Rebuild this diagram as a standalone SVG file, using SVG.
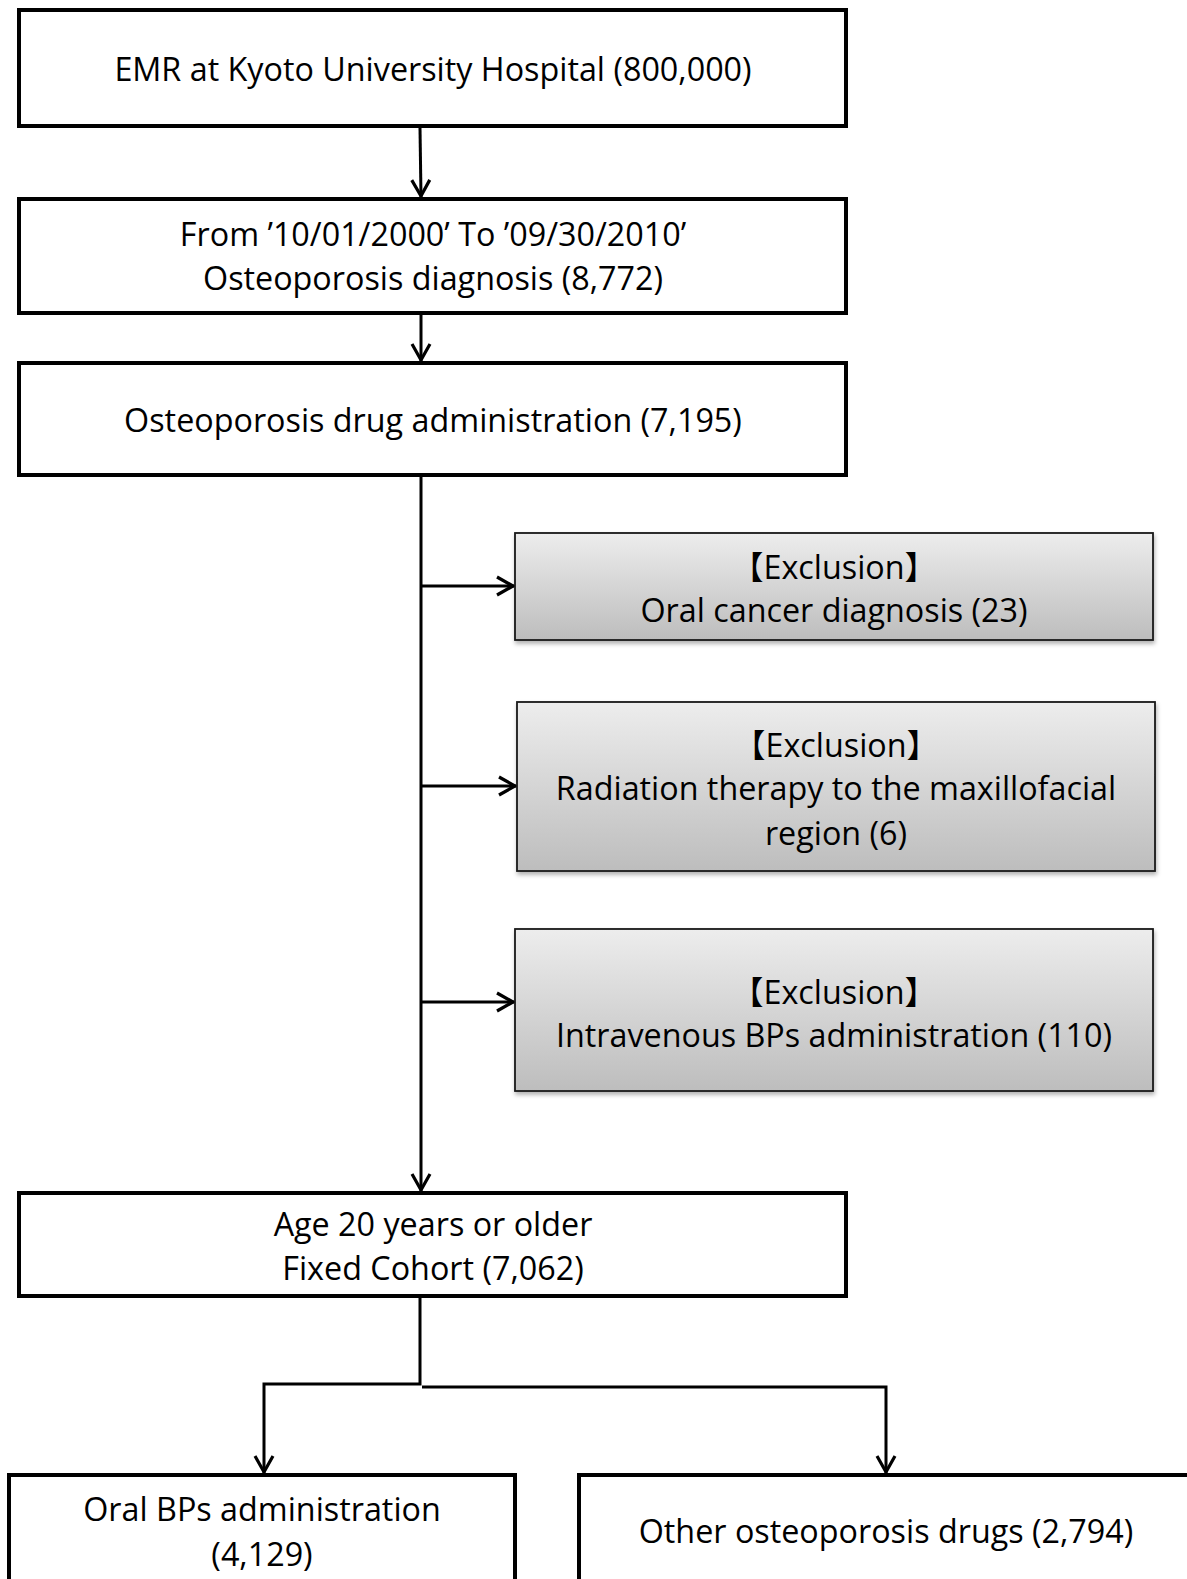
<svg xmlns="http://www.w3.org/2000/svg" width="1187" height="1579" viewBox="0 0 1187 1579">
<defs>
<style>
.main{fill:#fff;stroke:#000;stroke-width:4}
.excl{fill:url(#g);stroke:#1a1a1a;stroke-width:1.8;filter:url(#sh)}
.t{font-family:"Open Sans","Noto Sans CJK JP",sans-serif;font-size:32.3px;fill:#000;text-anchor:middle}
.c{fill:none;stroke:#000;stroke-width:3}
</style>
<linearGradient id="g" x1="0" y1="0" x2="0" y2="1">
<stop offset="0" stop-color="#ededed"/>
<stop offset="1" stop-color="#bdbdbd"/>
</linearGradient>
<filter id="sh" x="-5%" y="-10%" width="115%" height="130%">
<feDropShadow dx="1" dy="3" stdDeviation="2" flood-color="#000" flood-opacity="0.3"/>
</filter>
<marker id="a" markerUnits="userSpaceOnUse" markerWidth="30" markerHeight="30" viewBox="-22 -15 30 30" refX="0" refY="0" orient="auto">
<path d="M-17,-9 L-1,0 L-17,9" fill="none" stroke="#000" stroke-width="3.2"/>
</marker>
</defs>
<rect width="1187" height="1579" fill="#fff"/>
<g id="connectors">
<line class="c" x1="420" y1="128" x2="421" y2="197" marker-end="url(#a)"/>
<line class="c" x1="421" y1="315" x2="421" y2="361" marker-end="url(#a)"/>
<line class="c" x1="421" y1="477" x2="421" y2="1191" marker-end="url(#a)"/>
<line class="c" x1="421" y1="586" x2="514" y2="586" marker-end="url(#a)"/>
<line class="c" x1="421" y1="786" x2="516" y2="786" marker-end="url(#a)"/>
<line class="c" x1="421" y1="1002" x2="514" y2="1002" marker-end="url(#a)"/>
<polyline class="c" points="420,1298 420,1384 264,1384 264,1473" marker-end="url(#a)"/>
<polyline class="c" points="422,1387 886,1387 886,1473" marker-end="url(#a)"/>
</g>
<g id="n1">
<rect class="main" x="19" y="10" width="827" height="116"/>
<text class="t" x="433" y="81">EMR at Kyoto University Hospital (800,000)</text>
</g>
<g id="n2">
<rect class="main" x="19" y="199" width="827" height="114"/>
<text class="t" x="433" y="246">From ’10/01/2000’ To ’09/30/2010’</text>
<text class="t" x="433" y="290">Osteoporosis diagnosis (8,772)</text>
</g>
<g id="n3">
<rect class="main" x="19" y="363" width="827" height="112"/>
<text class="t" x="433" y="432">Osteoporosis drug administration (7,195)</text>
</g>
<g id="e1">
<rect class="excl" x="515" y="533" width="638" height="107"/>
<text class="t" x="834" y="579">【Exclusion】</text>
<text class="t" x="834" y="622">Oral cancer diagnosis (23)</text>
</g>
<g id="e2">
<rect class="excl" x="517" y="702" width="638" height="169"/>
<text class="t" x="836" y="757">【Exclusion】</text>
<text class="t" x="836" y="800">Radiation therapy to the maxillofacial</text>
<text class="t" x="836" y="845">region (6)</text>
</g>
<g id="e3">
<rect class="excl" x="515" y="929" width="638" height="162"/>
<text class="t" x="834" y="1004">【Exclusion】</text>
<text class="t" x="834" y="1047">Intravenous BPs administration (110)</text>
</g>
<g id="n4">
<rect class="main" x="19" y="1193" width="827" height="103"/>
<text class="t" x="433" y="1236">Age 20 years or older</text>
<text class="t" x="433" y="1280">Fixed Cohort (7,062)</text>
</g>
<g id="n5">
<rect class="main" x="9" y="1475" width="506" height="200"/>
<text class="t" x="262" y="1521">Oral BPs administration</text>
<text class="t" x="262" y="1566">(4,129)</text>
</g>
<g id="n6">
<rect class="main" x="579" y="1475" width="700" height="200"/>
<text class="t" x="886" y="1543">Other osteoporosis drugs (2,794)</text>
</g>
</svg>
